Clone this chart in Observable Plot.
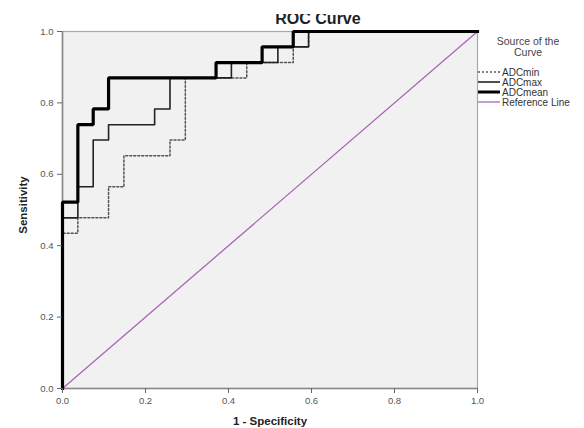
<!DOCTYPE html>
<html>
<head>
<meta charset="utf-8">
<script src="https://cdn.jsdelivr.net/npm/d3@7"></script>
<script src="https://cdn.jsdelivr.net/npm/@observablehq/plot@0.6"></script>
<style>
  html, body { margin: 0; padding: 0; background: #fff; }
  #chart svg { display: block; overflow: visible; }
</style>
</head>
<body>
<div id="chart"></div>
<script>
// ROC points (1 - specificity, sensitivity); drawn as step-after staircases
const minFpr  = [0, 0, 0.037, 0.111, 0.148, 0.259, 0.296, 0.444, 0.556, 0.593, 1];
const minTpr  = [0, 0.435, 0.478, 0.565, 0.652, 0.696, 0.870, 0.913, 0.957, 1, 1];
const maxFpr  = [0, 0, 0.037, 0.074, 0.111, 0.222, 0.259, 0.407, 0.519, 0.593, 1];
const maxTpr  = [0, 0.478, 0.565, 0.696, 0.739, 0.783, 0.870, 0.913, 0.957, 1, 1];
const meanFpr = [0, 0, 0.037, 0.074, 0.111, 0.370, 0.481, 0.556, 1];
const meanTpr = [0, 0.522, 0.739, 0.783, 0.870, 0.913, 0.957, 1, 1];
const refX = [0, 1];
const refY = [0, 1];
const ticks = [0, 0.2, 0.4, 0.6, 0.8, 1.0];
const seriesNames = ["ADCmin", "ADCmax", "ADCmean", "Reference Line"];
const titleText = "ROC Curve";
const legendTitle = ["Source of the", "Curve"];
const xLabel = "1 - Specificity";
const yLabel = "Sensitivity";

const toPts = (xs, ys) => xs.map((x, i) => ({x, y: ys[i]}));
const minPts = toPts(minFpr, minTpr);
const maxPts = toPts(maxFpr, maxTpr);
const meanPts = toPts(meanFpr, meanTpr);
const refPts = toPts(refX, refY);

const styles = [
  {stroke: "#555", strokeWidth: 1.5, dash: "2,2"},
  {stroke: "#222", strokeWidth: 1.6, dash: null},
  {stroke: "#000", strokeWidth: 3.2, dash: null},
  {stroke: "#a865b5", strokeWidth: 1.3, dash: null}
];

const W = 584, H = 428;
const plot = Plot.plot({
  width: W, height: H,
  marginLeft: 62, marginRight: 107, marginTop: 31, marginBottom: 40,
  style: {fontFamily: "'Liberation Sans', Arial, sans-serif", fontSize: "9.5px", color: "#555", background: "transparent"},
  x: {domain: [0, 1], ticks: ticks, tickFormat: d3.format(".1f"), label: null, tickSize: 5, tickPadding: 3},
  y: {domain: [0, 1], ticks: ticks, tickFormat: d3.format(".1f"), label: null, tickSize: 5, tickPadding: 2},
  marks: [
    Plot.frame({fill: "#f1f1f1", stroke: "#a8a8a8", strokeWidth: 1.2}),
    Plot.ruleX([0], {stroke: "#888", strokeWidth: 1.6}),
    Plot.ruleY([0], {stroke: "#888", strokeWidth: 1.6}),
    Plot.line(refPts, {x: "x", y: "y", stroke: styles[3].stroke, strokeWidth: styles[3].strokeWidth}),
    Plot.line(minPts, {x: "x", y: "y", curve: "step-after", stroke: styles[0].stroke, strokeWidth: styles[0].strokeWidth, strokeDasharray: styles[0].dash}),
    Plot.line(maxPts, {x: "x", y: "y", curve: "step-after", stroke: styles[1].stroke, strokeWidth: styles[1].strokeWidth}),
    Plot.line(meanPts, {x: "x", y: "y", curve: "step-after", stroke: styles[2].stroke, strokeWidth: styles[2].strokeWidth, strokeLinejoin: "miter", strokeLinecap: "square"}),
    Plot.axisX({ticks: ticks, tickFormat: d3.format(".1f"), tickSize: 5, stroke: "#666", fill: "#555", label: null}),
    Plot.axisY({ticks: ticks, tickFormat: d3.format(".1f"), tickSize: 5, stroke: "#666", fill: "#555", label: null})
  ]
});
document.getElementById("chart").appendChild(plot);

const svg = d3.select(plot);
const font = "'Liberation Sans', Arial, sans-serif";
// title (top partially clipped as in the reference)
svg.append("text").attr("x", 318).attr("y", 24).attr("text-anchor", "middle")
  .attr("font-family", font).attr("font-size", 16).attr("font-weight", "bold").attr("fill", "#222")
  .text(titleText);
svg.append("rect").attr("x", 250).attr("y", 0).attr("width", 140).attr("height", 14).attr("fill", "#fff");

// axis labels
svg.append("text").attr("x", 270).attr("y", 425).attr("text-anchor", "middle")
  .attr("font-family", font).attr("font-size", 11.5).attr("font-weight", "bold").attr("fill", "#222")
  .text(xLabel);
svg.append("text").attr("transform", "translate(27,205) rotate(-90)").attr("text-anchor", "middle")
  .attr("font-family", font).attr("font-size", 11.5).attr("font-weight", "bold").attr("fill", "#222")
  .text(yLabel);

// legend
const lg = svg.append("g").attr("font-family", font).attr("fill", "#444");
legendTitle.forEach((t, i) => {
  lg.append("text").attr("x", 528).attr("y", 45 + i * 10.5).attr("text-anchor", "middle")
    .attr("font-size", 10.5).text(t);
});
seriesNames.forEach((name, i) => {
  const y = 72 + i * 10;
  const s = styles[i];
  lg.append("line").attr("x1", 478).attr("x2", 500).attr("y1", y).attr("y2", y)
    .attr("stroke", s.stroke).attr("stroke-width", i === 2 ? 3 : s.strokeWidth)
    .attr("stroke-dasharray", s.dash);
  lg.append("text").attr("x", 502).attr("y", y + 3.5).attr("text-anchor", "start")
    .attr("font-size", 10).attr("fill", "#333").text(name);
});
</script>
</body>
</html>
